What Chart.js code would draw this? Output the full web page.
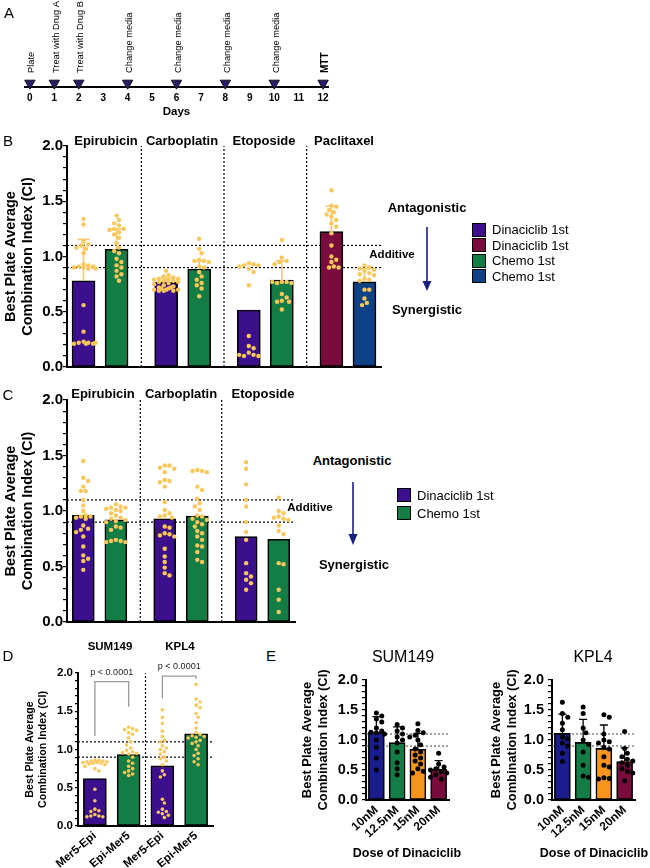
<!DOCTYPE html>
<html>
<head>
<meta charset="utf-8">
<title>Dinaciclib / chemotherapy combination index</title>
<script src="https://cdn.jsdelivr.net/npm/chart.js@4.4.1/dist/chart.umd.min.js"></script>
<style>
  html, body { margin: 0; padding: 0; background: #fff; }
  body { position: relative; width: 650px; height: 868px; overflow: hidden; font-family: Arial, "Liberation Sans", sans-serif; color: #000; }
  canvas { position: absolute; }
  .t { position: absolute; white-space: nowrap; transform: translate(-50%, -50%); line-height: 1; }
  .b { font-weight: bold; }
  .panel { font-size: 15px; }
  .legend { position: absolute; font-size: 13px; }
  .legend div { display: flex; align-items: center; }
  .legend .sw { width: 12px; height: 12px; border: 1px solid #000; margin-right: 6px; }
</style>
</head>
<body>
<canvas id="chartA"></canvas>
<canvas id="chartB"></canvas>
<canvas id="chartC"></canvas>
<canvas id="chartD"></canvas>
<canvas id="chartE1"></canvas>
<canvas id="chartE2"></canvas>

<!-- panel letters -->
<div class="t panel" style="left:9px;top:12px">A</div>
<div class="t panel" style="left:8px;top:140px">B</div>
<div class="t panel" style="left:8px;top:394px">C</div>
<div class="t panel" style="left:8px;top:655px">D</div>
<div class="t panel" style="left:271px;top:655px">E</div>

<!-- B headers + annotations -->
<div class="t b" style="left:106px;top:140px;font-size:13px">Epirubicin</div>
<div class="t b" style="left:182px;top:140px;font-size:13px">Carboplatin</div>
<div class="t b" style="left:264px;top:140px;font-size:13px">Etoposide</div>
<div class="t b" style="left:344px;top:140px;font-size:13px">Paclitaxel</div>
<div class="t b" style="left:427px;top:207px;font-size:13px">Antagonistic</div>
<div class="t b" style="left:392px;top:255px;font-size:11.5px">Additive</div>
<div class="t b" style="left:427px;top:309px;font-size:13px">Synergistic</div>
<div class="legend" style="left:472px;top:222px">
  <div style="height:15.5px"><span class="sw" style="background:#3c0f8c"></span>Dinaciclib 1st</div>
  <div style="height:15.5px"><span class="sw" style="background:#7a0b3d"></span>Dinaciclib 1st</div>
  <div style="height:15.5px"><span class="sw" style="background:#147d46"></span>Chemo 1st</div>
  <div style="height:15.5px"><span class="sw" style="background:#0f4187"></span>Chemo 1st</div>
</div>

<!-- C headers + annotations -->
<div class="t b" style="left:103px;top:393px;font-size:13px">Epirubicin</div>
<div class="t b" style="left:181px;top:393px;font-size:13px">Carboplatin</div>
<div class="t b" style="left:263px;top:393px;font-size:13px">Etoposide</div>
<div class="t b" style="left:352px;top:460px;font-size:13px">Antagonistic</div>
<div class="t b" style="left:310px;top:508px;font-size:11.5px">Additive</div>
<div class="t b" style="left:354px;top:564px;font-size:13px">Synergistic</div>
<div class="legend" style="left:397px;top:486px">
  <div style="height:18px"><span class="sw" style="background:#3c0f8c"></span>Dinaciclib 1st</div>
  <div style="height:18px"><span class="sw" style="background:#147d46"></span>Chemo 1st</div>
</div>

<!-- D / E headers -->
<div class="t b" style="left:110px;top:647px;font-size:11.5px">SUM149</div>
<div class="t b" style="left:180px;top:647px;font-size:11.5px">KPL4</div>
<div class="t" style="left:403px;top:657px;font-size:16px">SUM149</div>
<div class="t" style="left:593px;top:657px;font-size:16px">KPL4</div>
<div class="t b" style="left:407px;top:853px;font-size:12.5px">Dose of Dinaciclib</div>
<div class="t b" style="left:594px;top:853px;font-size:12.5px">Dose of Dinaciclib</div>

<svg style="position:absolute;left:0;top:0" width="650" height="868">
  <g stroke="#1a1f80" stroke-width="1.6" fill="#1a1f80">
    <line x1="427" y1="227" x2="427" y2="283"/>
    <polygon points="422.5,281 431.5,281 427,291" stroke="none"/>
    <line x1="353" y1="482" x2="353" y2="536"/>
    <polygon points="348.5,534 357.5,534 353,545" stroke="none"/>
  </g>
</svg>

<script>
// ---------- Panel A: treatment timeline ----------
const A_DAYS = [0, 1, 2, 3, 4, 5, 6, 7, 8, 9, 10, 11, 12];
const A_EVENT_DAYS = [0, 1, 2, 4, 6, 8, 10, 12];
const A_EVENT_LABELS = ['Plate', 'Treat with Drug A', 'Treat with Drug B', 'Change media',
  'Change media', 'Change media', 'Change media', 'MTT'];

// ---------- Panel B: schedule x drug (Dinaciclib 1st / Chemo 1st pairs) ----------
const B_DRUGS = ['Epirubicin', 'Carboplatin', 'Etoposide', 'Paclitaxel'];
const B_MEANS = [0.78, 1.065, 0.766, 0.887, 0.516, 0.787, 1.225, 0.77];
const B_SD = [0.375, 0.185, 0.04, 0.07, null, 0.175, 0.23, 0.12];
const B_POINTS = [
  [1.34, 1.29, 1.14, 1.11, 1.10, 1.08, 1.07, 1.03, 0.93, 0.92, 0.91, 0.91, 0.90, 0.90, 0.89, 0.89, 0.56, 0.32, 0.23, 0.22, 0.22, 0.21, 0.21, 0.21, 0.22],
  [1.37, 1.33, 1.30, 1.28, 1.25, 1.25, 1.24, 1.22, 1.20, 1.17, 1.12, 1.08, 1.05, 1.03, 0.98, 0.95, 0.92, 0.90, 0.87, 0.84, 0.82, 0.78],
  [0.87, 0.83, 0.82, 0.81, 0.80, 0.80, 0.79, 0.79, 0.78, 0.78, 0.77, 0.77, 0.76, 0.75, 0.74, 0.73, 0.72, 0.71, 0.70, 0.70, 0.69, 0.69, 0.69, 0.70, 0.71, 0.72],
  [1.16, 1.07, 1.03, 0.97, 0.96, 0.96, 0.95, 0.91, 0.90, 0.86, 0.82, 0.79, 0.76, 0.74, 0.71, 0.64],
  [0.94, 0.93, 0.92, 0.92, 0.91, 0.89, 0.86, 0.74, 0.28, 0.19, 0.17, 0.13, 0.11, 0.10, 0.10, 0.11],
  [1.15, 0.99, 0.96, 0.95, 0.93, 0.77, 0.77, 0.76, 0.76, 0.77, 0.66, 0.63, 0.60, 0.59, 0.59, 0.52],
  [1.60, 1.46, 1.45, 1.42, 1.40, 1.38, 1.36, 1.33, 1.30, 1.27, 1.21, 1.10, 1.00, 0.97, 0.95, 0.91, 0.90, 0.90],
  [0.92, 0.90, 0.89, 0.88, 0.87, 0.85, 0.84, 0.83, 0.80, 0.79, 0.78, 0.70, 0.70, 0.62, 0.58, 0.56]
];

// ---------- Panel C ----------
const C_DRUGS = ['Epirubicin', 'Carboplatin', 'Etoposide'];
const C_MEANS = [0.96, 0.92, 0.93, 0.955, 0.77, 0.745];
const C_POINTS = [
  [1.45, 1.30, 1.27, 1.22, 1.18, 1.18, 1.10, 1.05, 1.00, 0.96, 0.95, 0.95, 0.94, 0.93, 0.87, 0.84, 0.83, 0.81, 0.77, 0.68, 0.60, 0.57, 0.55, 0.47],
  [1.06, 1.04, 1.03, 1.03, 1.02, 1.01, 1.00, 0.98, 0.96, 0.94, 0.93, 0.92, 0.91, 0.90, 0.86, 0.85, 0.83, 0.74, 0.73, 0.73, 0.72, 0.72],
  [1.41, 1.41, 1.39, 1.38, 1.35, 1.28, 1.27, 1.26, 1.22, 1.08, 1.01, 0.98, 0.96, 0.95, 0.94, 0.86, 0.85, 0.80, 0.79, 0.78, 0.77, 0.66, 0.59, 0.54, 0.49, 0.44, 0.42],
  [1.37, 1.36, 1.36, 1.35, 1.22, 1.19, 1.11, 1.07, 1.04, 1.01, 0.96, 0.95, 0.93, 0.92, 0.90, 0.88, 0.86, 0.82, 0.80, 0.77, 0.74, 0.69, 0.68, 0.63, 0.56, 0.54],
  [1.44, 1.38, 1.24, 1.10, 1.04, 0.90, 0.81, 0.74, 0.53, 0.44, 0.41, 0.38, 0.35, 0.29],
  [1.12, 1.00, 0.98, 0.95, 0.94, 0.93, 0.92, 0.87, 0.82, 0.79, 0.53, 0.52, 0.29, 0.20, 0.09]
];

// ---------- Panel D ----------
const D_LABELS = ['Mer5-Epi', 'Epi-Mer5', 'Mer5-Epi', 'Epi-Mer5'];
const D_MEANS = [0.62, 0.935, 0.786, 1.205];
const D_POINTS = [
  [0.86, 0.86, 0.85, 0.85, 0.84, 0.84, 0.83, 0.83, 0.82, 0.82, 0.81, 0.80, 0.78, 0.75, 0.72, 0.48, 0.33, 0.22, 0.20, 0.19, 0.15, 0.13, 0.13, 0.12, 0.12],
  [1.29, 1.27, 1.26, 1.25, 1.22, 1.20, 1.15, 1.10, 1.06, 1.02, 0.99, 0.97, 0.96, 0.95, 0.94, 0.90, 0.85, 0.82, 0.78, 0.75, 0.72, 0.70, 0.68, 0.66],
  [1.52, 1.42, 1.34, 1.24, 1.17, 1.12, 1.10, 1.05, 1.02, 1.00, 0.97, 0.94, 0.90, 0.88, 0.85, 0.80, 0.72, 0.67, 0.64, 0.35, 0.30, 0.22, 0.19, 0.18, 0.16, 0.14, 0.11],
  [1.85, 1.66, 1.62, 1.58, 1.55, 1.47, 1.42, 1.35, 1.28, 1.22, 1.20, 1.18, 1.17, 1.16, 1.15, 1.12, 1.10, 1.08, 1.05, 1.00, 0.95, 0.92, 0.88, 0.84, 0.80]
];
const D_PVALUES = ['p < 0.0001', 'p < 0.0001'];

// ---------- Panel E: dose of Dinaciclib ----------
const E_DOSES = ['10nM', '12.5nM', '15nM', '20nM'];
const E_SUM_MEANS = [1.128, 0.955, 0.845, 0.517];
const E_SUM_SD = [0.26, 0.265, 0.265, 0.14];
const E_SUM_POINTS = [
  [1.45, 1.40, 1.35, 1.30, 1.20, 1.15, 1.13, 1.12, 1.10, 1.00, 0.88, 0.70, 0.50],
  [1.26, 1.20, 1.15, 1.10, 1.05, 1.00, 0.95, 0.80, 0.62, 0.52, 0.42],
  [1.27, 1.16, 1.12, 1.08, 1.05, 1.00, 0.92, 0.85, 0.80, 0.75, 0.70, 0.65, 0.60, 0.52, 0.48, 0.45],
  [0.78, 0.60, 0.55, 0.52, 0.50, 0.47, 0.45, 0.42, 0.38, 0.35]
];
const E_KPL_MEANS = [1.11, 0.96, 0.86, 0.64];
const E_KPL_SD = [0.32, 0.385, 0.39, 0.23];
const E_KPL_POINTS = [
  [1.63, 1.44, 1.38, 1.28, 1.17, 1.05, 1.02, 0.95, 0.90, 0.78, 0.64],
  [1.55, 1.44, 1.20, 1.12, 1.00, 0.93, 0.80, 0.58, 0.40, 0.38],
  [1.42, 1.38, 1.10, 1.00, 0.97, 0.95, 0.88, 0.85, 0.72, 0.58, 0.55, 0.37, 0.36, 0.35],
  [1.14, 0.86, 0.78, 0.72, 0.68, 0.65, 0.62, 0.58, 0.52, 0.48, 0.45, 0.32]
];

// additive band of the combination index
const THRESHOLDS = [0.9, 1.1];
const Y_TICKS = Array.from({ length: 21 }, (_, i) => i / 10);
const Y_TITLE = ['Best Plate Average', 'Combination Index (CI)'];

const FONT = 'Arial, "Liberation Sans", sans-serif';
const PURPLE = '#3c0f8c', GREEN = '#147d46', MAROON = '#7a0b3d', BLUE = '#0f4187';
const NAVY = '#1b1c8e', ORANGE = '#f7941d', DOT_YELLOW = '#f9c75a';

Chart.defaults.font.family = FONT;
Chart.defaults.color = '#000';
Chart.defaults.animation = false;
Chart.defaults.plugins.legend.display = false;
Chart.defaults.plugins.tooltip.enabled = false;

function placeCanvas(id, c) {
  const cv = document.getElementById(id);
  cv.width = c[2] - c[0];
  cv.height = c[3] - c[1];
  cv.style.left = c[0] + 'px';
  cv.style.top = c[1] + 'px';
  return cv;
}

function yTickLabel(v) {
  const t = Math.round(v * 10);
  return t % 5 === 0 ? (t / 10).toFixed(1) : '';
}

// beeswarm: push close values sideways, but keep them roughly within the bar
function swarm(values, pxX, pxY, diam, maxOff) {
  const placed = [];
  return values.map(v => {
    const py = v * pxY;
    let best = 0, bestGap = -1;
    for (let k = 0; ; k++) {
      const cand = (k % 2 ? 1 : -1) * Math.ceil(k / 2) * diam * 0.5;
      if (Math.abs(cand) > maxOff) break;
      const gap = placed.reduce((m, p) => Math.min(m, Math.hypot(p.x - cand, p.y - py)), Infinity);
      if (gap >= diam) { best = cand; break; }
      if (gap > bestGap) { best = cand; bestGap = gap; }
    }
    placed.push({ x: best, y: py });
    return best / pxX;
  });
}

const errorBars = {
  id: 'errorBars',
  afterDatasetDraw(chart, args, opts) {
    if (args.index !== 0 || !opts.sd) return;
    const { ctx, scales: { x, y } } = chart;
    ctx.save();
    ctx.strokeStyle = opts.color;
    ctx.lineWidth = opts.width;
    opts.sd.forEach((sd, i) => {
      if (sd == null) return;
      const cx = x.getPixelForValue(opts.pos[i]);
      const y0 = y.getPixelForValue(opts.means[i]);
      const y1 = y.getPixelForValue(opts.means[i] + sd);
      ctx.beginPath();
      ctx.moveTo(cx, y0); ctx.lineTo(cx, y1);
      ctx.moveTo(cx - opts.cap / 2, y1); ctx.lineTo(cx + opts.cap / 2, y1);
      ctx.stroke();
    });
    ctx.restore();
  }
};

// two-line y title, drawn without the scale's width squeeze
const sideTitle = {
  id: 'sideTitle',
  afterDraw(chart, args, opts) {
    if (!opts.size) return;
    const { ctx, chartArea, scales: { y } } = chart;
    const lh = opts.size * 1.2;
    ctx.save();
    ctx.fillStyle = '#000';
    ctx.font = 'bold ' + opts.size + 'px ' + FONT;
    ctx.textAlign = 'center';
    ctx.textBaseline = 'middle';
    Y_TITLE.forEach((line, i) => {
      ctx.save();
      ctx.translate(y.left + lh / 2 + i * lh, (chartArea.top + chartArea.bottom) / 2);
      ctx.rotate(-Math.PI / 2);
      ctx.fillText(line, 0, 0);
      ctx.restore();
    });
    ctx.restore();
  }
};

const brackets = {
  id: 'brackets',
  afterDraw(chart, args, opts) {
    if (!opts.items) return;
    const { ctx, scales: { x, y } } = chart;
    ctx.save();
    ctx.strokeStyle = '#999';
    ctx.lineWidth = 1.3;
    ctx.fillStyle = '#222';
    ctx.font = '9px ' + FONT;
    ctx.textAlign = 'center';
    ctx.textBaseline = 'middle';
    opts.items.forEach(b => {
      const x0 = x.getPixelForValue(b.from), x1 = x.getPixelForValue(b.to);
      const yt = y.getPixelForValue(b.top);
      ctx.beginPath();
      ctx.moveTo(x0, y.getPixelForValue(b.leftEnd));
      ctx.lineTo(x0, yt);
      ctx.lineTo(x1, yt);
      ctx.lineTo(x1, y.getPixelForValue(b.rightEnd));
      ctx.stroke();
      ctx.fillText(b.text, (x0 + x1) / 2, y.getPixelForValue(b.textAt));
    });
    ctx.restore();
  }
};

const eventLabels = {
  id: 'eventLabels',
  afterDatasetsDraw(chart) {
    const { ctx, scales: { x } } = chart;
    ctx.save();
    ctx.fillStyle = '#000';
    ctx.textAlign = 'left';
    ctx.textBaseline = 'middle';
    A_EVENT_DAYS.forEach((d, i) => {
      const last = i === A_EVENT_DAYS.length - 1;
      ctx.font = (last ? 'bold 10px ' : '9.3px ') + FONT;
      ctx.save();
      ctx.translate(x.getPixelForValue(d) + 2, 73);
      ctx.rotate(-Math.PI / 2);
      ctx.fillText(A_EVENT_LABELS[i], 0, 0);
      ctx.restore();
    });
    ctx.restore();
  }
};

function drawTimeline() {
  const cv = placeCanvas('chartA', [0, 0, 340, 125]);
  new Chart(cv, {
    type: 'scatter',
    data: {
      datasets: [{
        data: A_EVENT_DAYS.map(d => ({ x: d, y: 0 })),
        pointStyle: 'triangle',
        pointRotation: 180,
        pointRadius: 6,
        pointBackgroundColor: '#2d1b6e',
        pointBorderColor: '#111',
        pointBorderWidth: 1,
        clip: false
      }]
    },
    options: {
      responsive: false,
      devicePixelRatio: 1,
      layout: { padding: { left: 25, right: 12, top: 5, bottom: 0 } },
      scales: {
        x: {
          type: 'linear', min: -0.2, max: 12.2,
          afterBuildTicks: s => { s.ticks = A_DAYS.map(v => ({ value: v })); },
          afterFit: s => { s.height = 38; },
          grid: { display: false, drawTicks: false, tickLength: 0 },
          border: { display: true, color: '#000', width: 2 },
          ticks: { font: { size: 10, weight: 'bold' }, padding: 5, autoSkip: false, maxRotation: 0 },
          title: { display: true, text: 'Days', font: { size: 11.5, weight: 'bold' }, padding: { top: 0, bottom: 6 } }
        },
        y: { display: false, min: -0.5, max: 10 }
      }
    },
    plugins: [eventLabels]
  });
}

function barPanel(p) {
  const cv = placeCanvas(p.id, p.canvas);
  const [cl, , , cb] = p.canvas;
  const [pl, pt, pr, pb] = p.plot;
  const pxX = (pr - pl) / (p.xMax - p.xMin);
  const pxY = (pb - pt) / 2;

  const datasets = [{
    type: 'bar', order: 2,
    data: p.pos.map((x, i) => ({ x, y: p.means[i] })),
    backgroundColor: p.colors,
    borderColor: '#000', borderWidth: 1.6, borderSkipped: false,
    barThickness: p.barW
  }];
  p.points.forEach((vals, i) => {
    const offs = swarm(vals, pxX, pxY, p.dotR * 2 + 0.4, p.barW / 2 + p.spread);
    datasets.push({
      type: 'scatter', order: 0, clip: false,
      data: vals.map((v, j) => ({ x: p.pos[i] + offs[j], y: v })),
      pointRadius: p.dotR, pointBackgroundColor: p.dotColor, pointBorderWidth: 0
    });
  });
  THRESHOLDS.forEach(t => datasets.push({
    type: 'line', order: 3,
    data: [{ x: p.xMin, y: t }, { x: p.xMax, y: t }],
    borderColor: p.lineColor, borderWidth: 1.2, borderDash: [2, 2], pointRadius: 0
  }));
  (p.separators || []).forEach(s => datasets.push({
    type: 'line', order: 3,
    data: [{ x: s, y: 0 }, { x: s, y: 2 }],
    borderColor: '#000', borderWidth: 1.2, borderDash: [2, 2], pointRadius: 0
  }));

  const xScale = {
    type: 'linear', min: p.xMin, max: p.xMax, offset: false,
    afterFit: s => { s.height = cb - pb; },
    grid: { display: false, drawTicks: false, tickLength: 0 },
    border: { display: true, color: '#000', width: 2 },
    ticks: { display: false }
  };
  if (p.xLabels) {
    xScale.afterBuildTicks = s => { s.ticks = p.pos.map(v => ({ value: v })); };
    xScale.ticks = {
      display: true, autoSkip: false, padding: 3,
      minRotation: p.xRot, maxRotation: p.xRot,
      font: { size: p.xFontSize, weight: 'bold' },
      callback: (v, i) => p.xLabels[i]
    };
  }

  new Chart(cv, {
    type: 'bar',
    data: { datasets },
    options: {
      responsive: false,
      devicePixelRatio: 1,
      layout: { padding: { left: 0, top: pt - p.canvas[1], right: p.canvas[2] - pr, bottom: 0 } },
      scales: {
        x: xScale,
        y: {
          min: 0, max: 2,
          afterFit: s => { s.width = pl - cl; },
          afterBuildTicks: s => { s.ticks = Y_TICKS.map(v => ({ value: v })); },
          grid: { display: true, drawOnChartArea: false, drawTicks: true, tickLength: p.tickLen, color: '#000', lineWidth: 1.2 },
          border: { display: true, color: '#000', width: 2 },
          ticks: { callback: yTickLabel, font: { size: p.yTickSize, weight: 'bold' }, padding: p.tickPad, autoSkip: false }
        }
      },
      plugins: {
        sideTitle: { size: p.yTitleSize },
        errorBars: p.err ? { sd: p.sd, pos: p.pos, means: p.means, color: p.err.color, width: p.err.width, cap: p.err.cap } : {},
        brackets: p.brackets ? { items: p.brackets } : {}
      }
    },
    plugins: [errorBars, sideTitle, brackets]
  });
}

// bar slots: pairs of bars per drug, a wider gap between drugs
const pairSlot = i => Math.floor(i / 2) * 5 + (i % 2) * 2;
const B_POS = B_MEANS.map((_, i) => pairSlot(i));
const C_POS = C_MEANS.map((_, i) => pairSlot(i));
const E_POS = E_DOSES.map((_, i) => i);
const D_POS = D_LABELS.map((_, i) => i);

drawTimeline();

barPanel({
  id: 'chartB', canvas: [2, 128, 392, 381], plot: [67, 146, 381, 367],
  xMin: -1, xMax: 18, pos: B_POS, means: B_MEANS, sd: B_SD, points: B_POINTS,
  colors: [PURPLE, GREEN, PURPLE, GREEN, PURPLE, GREEN, MAROON, BLUE],
  barW: 23, dotR: 2.2, dotColor: DOT_YELLOW, spread: 1,
  err: { color: '#f3cb6e', width: 1.6, cap: 12 },
  separators: B_DRUGS.slice(1).map((_, g) => (g + 1) * 5 - 1.5), lineColor: '#000',
  yTickSize: 15, tickLen: 4, tickPad: 0, yTitleSize: 14.5
});

barPanel({
  id: 'chartC', canvas: [2, 382, 306, 634], plot: [67, 400, 295, 622],
  xMin: -1, xMax: 13, pos: C_POS, means: C_MEANS, points: C_POINTS,
  colors: [PURPLE, GREEN, PURPLE, GREEN, PURPLE, GREEN],
  barW: 22, dotR: 2.2, dotColor: DOT_YELLOW, spread: 1,
  separators: C_DRUGS.slice(1).map((_, g) => (g + 1) * 5 - 1.5), lineColor: '#000',
  yTickSize: 15, tickLen: 4, tickPad: 0, yTitleSize: 14.5
});

barPanel({
  id: 'chartD', canvas: [24, 640, 225, 868], plot: [78, 673, 213, 826],
  xMin: -0.5, xMax: 3.5, pos: D_POS, means: D_MEANS, points: D_POINTS,
  colors: [PURPLE, GREEN, PURPLE, GREEN],
  barW: 23, dotR: 1.8, dotColor: DOT_YELLOW, spread: 1,
  separators: [1.5], lineColor: '#000',
  xLabels: D_LABELS, xRot: 40, xFontSize: 11.5,
  brackets: [
    { from: 0, to: 1, top: 1.886, leftEnd: 1.175, rightEnd: 1.56, textAt: 2.01, text: D_PVALUES[0] },
    { from: 2, to: 3, top: 1.96, leftEnd: 1.67, rightEnd: 1.92, textAt: 2.08, text: D_PVALUES[1] }
  ],
  yTickSize: 11.5, tickLen: 3, tickPad: 2, yTitleSize: 10.7
});

barPanel({
  id: 'chartE1', canvas: [300, 645, 461, 868], plot: [366, 680, 449, 800],
  xMin: -0.5, xMax: 3.5, pos: E_POS, means: E_SUM_MEANS, sd: E_SUM_SD, points: E_SUM_POINTS,
  colors: [NAVY, GREEN, ORANGE, MAROON],
  barW: 16, dotR: 2.5, dotColor: '#000', spread: 1,
  err: { color: '#000', width: 1.3, cap: 8 },
  lineColor: '#666',
  xLabels: E_DOSES, xRot: 42, xFontSize: 12,
  yTickSize: 14.5, tickLen: 4, tickPad: 4, yTitleSize: 12.9
});

barPanel({
  id: 'chartE2', canvas: [489, 645, 647, 868], plot: [552, 680, 635, 800],
  xMin: -0.5, xMax: 3.5, pos: E_POS, means: E_KPL_MEANS, sd: E_KPL_SD, points: E_KPL_POINTS,
  colors: [NAVY, GREEN, ORANGE, MAROON],
  barW: 16, dotR: 2.5, dotColor: '#000', spread: 1,
  err: { color: '#000', width: 1.3, cap: 8 },
  lineColor: '#666',
  xLabels: E_DOSES, xRot: 42, xFontSize: 12,
  yTickSize: 14.5, tickLen: 4, tickPad: 4, yTitleSize: 12.9
});
</script>
</body>
</html>
